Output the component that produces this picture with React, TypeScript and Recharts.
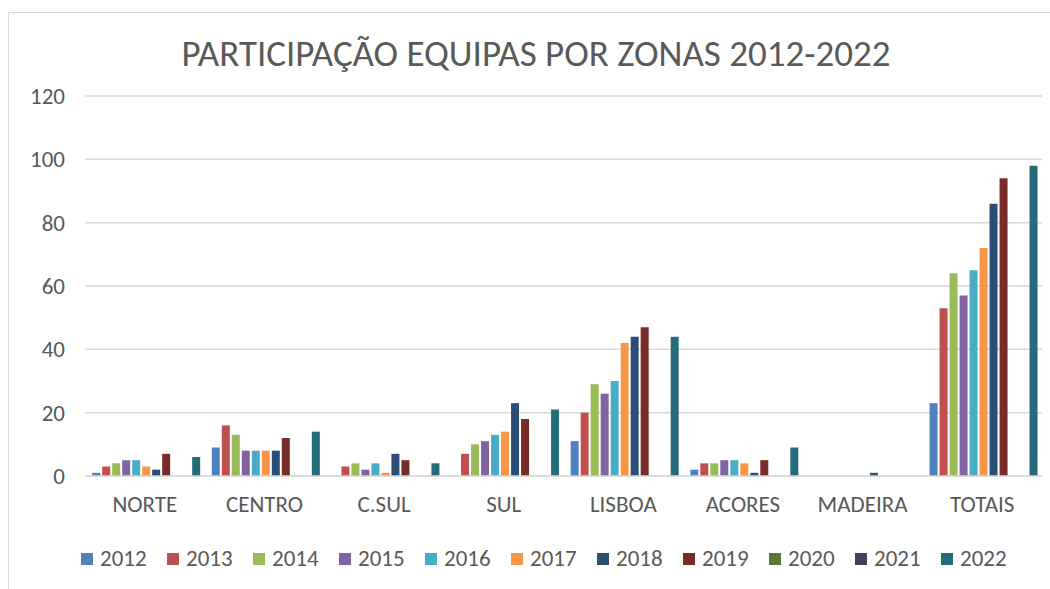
import { BarChart, Bar, XAxis, YAxis, CartesianGrid, Legend } from "recharts";

const zones = ["NORTE", "CENTRO", "C.SUL", "SUL", "LISBOA", "ACORES", "MADEIRA", "TOTAIS"];
const years = ["2012", "2013", "2014", "2015", "2016", "2017", "2018", "2019", "2020", "2021", "2022"];
const yTicks = [0, 20, 40, 60, 80, 100, 120];

// one array per year, values in zone order
const v2012 = [1, 9, 0, 0, 11, 2, 0, 23];
const v2013 = [3, 16, 3, 7, 20, 4, 0, 53];
const v2014 = [4, 13, 4, 10, 29, 4, 0, 64];
const v2015 = [5, 8, 2, 11, 26, 5, 0, 57];
const v2016 = [5, 8, 4, 13, 30, 5, 0, 65];
const v2017 = [3, 8, 1, 14, 42, 4, 0, 72];
const v2018 = [2, 8, 7, 23, 44, 1, 1, 86];
const v2019 = [7, 12, 5, 18, 47, 5, 0, 94];
const v2020 = [0, 0, 0, 0, 0, 0, 0, 0];
const v2021 = [0, 0, 0, 0, 0, 0, 0, 0];
const v2022 = [6, 14, 4, 21, 44, 9, 0, 98];

const series = [v2012, v2013, v2014, v2015, v2016, v2017, v2018, v2019, v2020, v2021, v2022];
const colors = [
  "#4F81BD", "#C0504D", "#9BBB59", "#8064A2", "#4BACC6", "#F79646",
  "#2C4D75", "#772C2A", "#5F7530", "#4D3B62", "#276A7C",
];

const data = zones.map((zone, i) => {
  const row: Record<string, string | number> = { zone };
  years.forEach((y, k) => {
    row[y] = series[k][i];
  });
  return row;
});

const font = "Carlito, Calibri, Lato, sans-serif";
const textColor = "#595959";

function LegendRow() {
  return (
    <div
      style={{
        display: "flex", alignItems: "center", height: 23, paddingLeft: 81,
        fontFamily: font, fontSize: 23, color: textColor, lineHeight: "23px",
      }}
    >
      {years.map((y, k) => (
        <div key={y} style={{ display: "flex", alignItems: "center", width: 86 }}>
          <span style={{ display: "inline-block", width: 12, height: 12, background: colors[k], marginRight: 7 }} />
          <span>{y}</span>
        </div>
      ))}
    </div>
  );
}

export default function App() {
  return (
    <div style={{ position: "fixed", left: 0, top: 0, width: 1050, height: 589, background: "#fff", overflow: "hidden" }}>
      <div
        style={{
          position: "absolute", left: 8, top: 12, width: 1060, height: 600,
          border: "1px solid #d9d9d9", boxSizing: "border-box",
        }}
      />
      <div
        style={{
          position: "absolute", left: 0, top: 31, width: 1072, textAlign: "center",
          fontFamily: font, fontSize: 37, color: textColor, whiteSpace: "nowrap",
        }}
      >
        PARTICIPAÇÃO EQUIPAS POR ZONAS 2012-2022
      </div>
      <div style={{ position: "absolute", left: 0, top: 0 }}>
        <BarChart
          width={1050}
          height={589}
          data={data}
          margin={{ top: 96, right: 8, left: 0, bottom: 60 }}
          barCategoryGap="6%"
          barGap={2}
        >
          <CartesianGrid vertical={false} stroke="#d9d9d9" strokeWidth={1.5} />
          <XAxis
            dataKey="zone"
            height={30}
            tickLine={false}
            axisLine={{ stroke: "#d9d9d9", strokeWidth: 1.5 }}
            tick={{ fill: textColor, fontSize: 23, fontFamily: font }}
            tickMargin={14}
          />
          <YAxis
            width={85}
            domain={[0, 120]}
            ticks={yTicks}
            tickLine={false}
            axisLine={false}
            tickSize={0}
            tickMargin={20}
            tick={{ fill: textColor, fontSize: 23, fontFamily: font }}
          />
          <Legend
            content={() => <LegendRow />}
            wrapperStyle={{ top: 547, left: 0, width: 1050 }}
          />
          {years.map((y, k) => (
            <Bar key={y} dataKey={y} fill={colors[k]} isAnimationActive={false} />
          ))}
        </BarChart>
      </div>
    </div>
  );
}
